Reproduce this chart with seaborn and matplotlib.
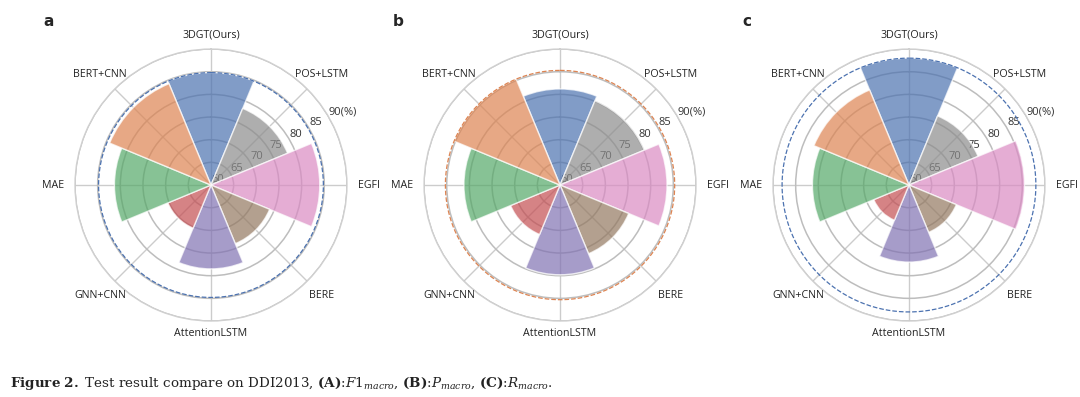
import numpy as np
import matplotlib
matplotlib.use('Agg')
import matplotlib.pyplot as plt
import seaborn as sns

sns.set_theme(style='white')
plt.rcParams['font.family'] = ['Open Sans', 'DejaVu Sans']

# methods, clockwise from the top
methods = ['3DGT(Ours)', 'POS+LSTM', 'EGFI', 'BERE', 'AttentionLSTM',
           'GNN+CNN', 'MAE', 'BERT+CNN']

# scores (%)
f1_macro = [84.8, 78.3, 84.0, 74.0, 78.5, 70.3, 81.3, 84.2]
p_macro = [81.2, 80.1, 83.6, 76.4, 79.8, 71.8, 81.2, 85.3]
r_macro = [88.0, 76.5, 85.5, 71.3, 77.0, 68.4, 81.3, 82.7]

panels = ['a', 'b', 'c']
r_ticks = [60, 65, 70, 75, 80, 85, 90]
r_tick_labels = ['60', '65', '70', '75', '80', '85', '90(%)']

deep = sns.color_palette('deep')
colors = [deep[0], deep[7], deep[6], deep[5], deep[4], deep[3], deep[2], deep[1]]

theta = np.arange(len(methods)) * 2 * np.pi / len(methods)
width = 2 * np.pi / len(methods)
# label distance (in radial units) for each direction
label_r = [93.0, 94.6, 94.9, 94.6, 92.7, 94.6, 94.9, 94.6]

fig = plt.figure(figsize=(10.8, 3.97), dpi=100)
lefts = [0.0694, 0.3926, 0.7157]

for left, name, vals in zip(lefts, panels, [f1_macro, p_macro, r_macro]):
    ax = fig.add_axes([left, 0.1914, 0.2519, 0.685], projection='polar')
    ax.set_theta_zero_location('N')
    ax.set_theta_direction(-1)
    ax.set_ylim(60, 90)

    ax.bar(theta, np.array(vals) - 60, width=width, bottom=60, color=colors,
           alpha=0.7, edgecolor='white', linewidth=1.0, zorder=3)

    best = int(np.argmax(vals))
    circ = np.linspace(0, 2 * np.pi, 400)
    ax.plot(circ, [vals[best]] * len(circ), ls='--', lw=0.9,
            color=colors[best], zorder=4)

    ax.set_xticks(theta)
    ax.set_xticklabels([])
    ax.set_yticks(r_ticks)
    ax.set_yticklabels([])
    ax.grid(True)
    ax.xaxis.grid(color='#cccccc', lw=1.0)
    ax.yaxis.grid(color='#bdbdbd', lw=1.1)
    ax.spines['polar'].set_color('#d0d0d0')
    ax.spines['polar'].set_linewidth(1.0)

    for t, m, rr in zip(theta, methods, label_r):
        ax.text(t, rr, m, ha='center', va='center', fontsize=7.7,
                color='#222222', clip_on=False)
    for v, lab in zip(r_ticks, r_tick_labels):
        ax.text(np.deg2rad(60), v, lab, ha='left', va='bottom', fontsize=8,
                color='#333333', zorder=2, clip_on=False)

    fig.text(left - 0.0240, 0.945, name, fontsize=11, fontweight='bold',
             ha='center', va='center', family='DejaVu Sans')

plt.rcParams['mathtext.fontset'] = 'dejavuserif'
caption = (r'$\mathbf{Figure\ 2.}$ Test result compare on DDI2013, '
           r'$\mathbf{(A)}$:$F1_{macro}$, $\mathbf{(B)}$:$P_{macro}$, '
           r'$\mathbf{(C)}$:$R_{macro}$.')
fig.text(0.0093, 0.035, caption, fontsize=9.7, family='DejaVu Serif',
         ha='left', va='center', color='#222222')

fig.savefig('out.png', dpi=100)
